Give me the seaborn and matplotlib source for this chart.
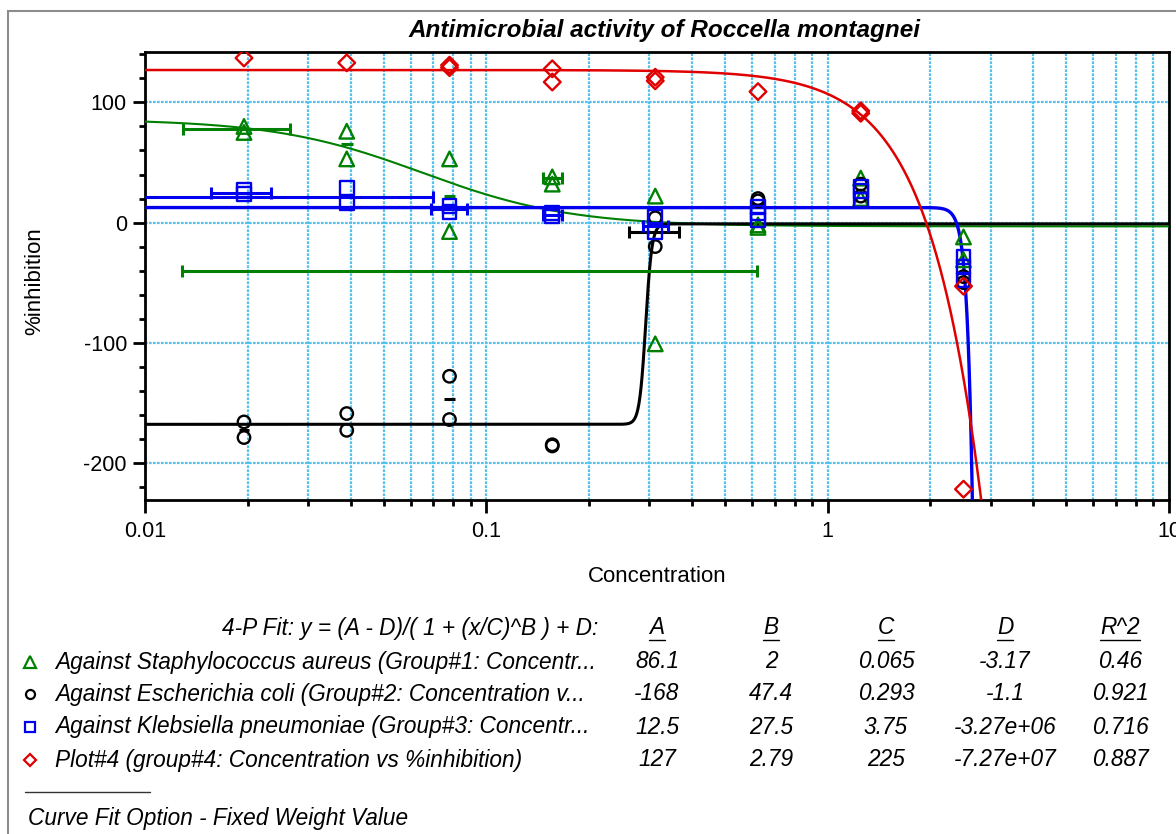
import numpy as np
import pandas as pd
import matplotlib
matplotlib.use("Agg")
import matplotlib.pyplot as plt
import seaborn as sns
from matplotlib.lines import Line2D
from matplotlib.patches import Rectangle
from matplotlib.ticker import LogLocator, MultipleLocator, NullFormatter

sns.set_theme(style="white")
plt.rcParams['font.family'] = ['Liberation Sans', 'DejaVu Sans']
plt.rcParams['axes.unicode_minus'] = False
plt.rcParams['text.color'] = 'black'
plt.rcParams['xtick.color'] = 'black'
plt.rcParams['ytick.color'] = 'black'

# ---------------- data ----------------
# Against Staphylococcus aureus
sa_x = [0.0195, 0.0195, 0.039, 0.039, 0.078, 0.078, 0.156, 0.156, 0.3125, 0.3125,
        0.625, 0.625, 1.25, 1.25, 2.5, 2.5]
sa_y = [80, 75, 76, 53, 53, -7.5, 38, 32, 22, -101, -2, -4, 37, 20, -12, -31]
# Against Escherichia coli
ec_x = [0.0195, 0.0195, 0.039, 0.039, 0.078, 0.078, 0.156, 0.156, 0.3125, 0.3125,
        0.625, 0.625, 1.25, 1.25, 2.5, 2.5]
ec_y = [-166, -179, -159, -173, -128, -164, -185, -186, 4, -20, 18, 20, 32, 22, -45, -50]
# Against Klebsiella pneumoniae
kp_x = [0.0195, 0.0195, 0.039, 0.039, 0.078, 0.078, 0.156, 0.156, 0.3125, 0.3125,
        0.625, 0.625, 0.625, 1.25, 1.25, 1.25, 2.5, 2.5, 2.5]
kp_y = [27, 24, 29, 16, 14, 9, 8, 5, 5, -8, 13, 8, 2, 30, 26, 19, -29, -37, -48]
# Plot#4
p4_x = [0.0195, 0.039, 0.078, 0.078, 0.156, 0.156, 0.3125, 0.3125, 0.625, 1.25, 1.25, 2.5, 2.5]
p4_y = [137, 133, 131, 129, 128, 117, 121, 118, 109, 93, 91, -53, -222]

# horizontal error bars (centre x, mean y, low x, high x)
sa_eb_x = [0.0195, 0.156, 0.3125]
sa_eb_y = [78, 37.5, -40]
sa_eb_lo = [0.0129, 0.1465, 0.0128]
sa_eb_hi = [0.0266, 0.1665, 0.620]
sa_dash_x = [0.039, 0.078]
sa_dash_y = [65, 22.5]

ec_eb_x = [0.3125]
ec_eb_y = [-8]
ec_eb_lo = [0.262]
ec_eb_hi = [0.367]
ec_dash_x = [0.0195, 0.078]
ec_dash_y = [-173, -147]

kp_eb_x = [0.0195, 0.039, 0.078, 0.156, 0.3125]
kp_eb_y = [25, 21, 11, 6.5, -2.5]
kp_eb_lo = [0.0156, 0.005, 0.0689, 0.1466, 0.288]
kp_eb_hi = [0.0234, 0.0700, 0.0878, 0.1667, 0.340]

# 4-P fit parameters  y = (A - D)/(1 + (x/C)^B) + D
series_names = ["Against Staphylococcus aureus (Group#1: Concentr...",
                "Against Escherichia coli (Group#2: Concentration v...",
                "Against Klebsiella pneumoniae (Group#3: Concentr...",
                "Plot#4 (group#4: Concentration vs %inhibition)"]
fit_A = [86.1, -168, 12.5, 127]
fit_B = [2, 47.4, 27.5, 2.79]
fit_C = [0.065, 0.293, 3.75, 225]
fit_D = [-3.17, -1.1, -3.27e+06, -7.27e+07]
fit_R2 = [0.46, 0.921, 0.716, 0.887]

x_ticks = [0.01, 0.1, 1, 10]
x_ticklabels = ["0.01", "0.1", "1", "10"]
y_ticks = [-200, -100, 0, 100]

colors = ["#008000", "#000000", "#0000EE", "#E00000"]
markers = ["^", "o", "s", "D"]
msizes = [110, 80, 100, 72]

# ---------------- figure ----------------
W, H = 1176, 834
fig = plt.figure(figsize=(W / 100, H / 100), dpi=100)
fig.patch.set_facecolor("white")

def fx(px):
    return px / W

def fy(py):
    return 1 - py / H

ax = fig.add_axes([fx(145), fy(500), fx(1169) - fx(145), fy(52) - fy(500)])
ax.set_xscale("log")
ax.set_xlim(0.01, 10)
ax.set_ylim(-231, 142)
ax.set_facecolor("white")

gridc = "#55C2EE"
ax.set_axisbelow(True)
ax.grid(which="both", axis="x", color=gridc, linestyle=(0, (1.2, 0.6)), linewidth=1.6)
ax.grid(which="major", axis="y", color=gridc, linestyle=(0, (1.2, 0.6)), linewidth=1.6)

# fitted curves
xs = np.logspace(-2, 1, 4000)
curve_lw = [1.5, 2.2, 2.4, 1.8]
for i in range(4):
    ys = (fit_A[i] - fit_D[i]) / (1 + (xs / fit_C[i]) ** fit_B[i]) + fit_D[i]
    sns.lineplot(x=xs, y=ys, color=colors[i], linewidth=curve_lw[i], ax=ax,
                 estimator=None, sort=False, zorder=3)

# error bars
def hbars(xc, yc, lo, hi, color, cap):
    xc = np.array(xc); lo = np.array(lo); hi = np.array(hi)
    ax.errorbar(xc, yc, xerr=[xc - lo, hi - xc], fmt="none", ecolor=color,
                elinewidth=2.2, capsize=cap, capthick=2.2, zorder=4)

hbars(sa_eb_x, sa_eb_y, sa_eb_lo, sa_eb_hi, colors[0], 4.5)
hbars(sa_dash_x, sa_dash_y, np.array(sa_dash_x) / 1.04, np.array(sa_dash_x) * 1.04, colors[0], 0)
hbars(ec_eb_x, ec_eb_y, ec_eb_lo, ec_eb_hi, colors[1], 4.5)
hbars(ec_dash_x, ec_dash_y, np.array(ec_dash_x) / 1.035, np.array(ec_dash_x) * 1.035, colors[1], 0)
hbars(kp_eb_x, kp_eb_y, kp_eb_lo, kp_eb_hi, colors[2], 4.5)

# data points
pts = [(sa_x, sa_y), (ec_x, ec_y), (kp_x, kp_y), (p4_x, p4_y)]
for i, (px_, py_) in enumerate(pts):
    sns.scatterplot(x=px_, y=py_, marker=markers[i], s=msizes[i], facecolors="none",
                    edgecolors=colors[i], linewidth=1.7, ax=ax, zorder=5, legend=False)

# axes styling
for sp in ax.spines.values():
    sp.set_color("black")
    sp.set_linewidth(2.0)
    sp.set_visible(True)
ax.set_xticks(x_ticks)
ax.set_xticklabels(x_ticklabels)
ax.xaxis.set_minor_locator(LogLocator(base=10, subs=np.arange(2, 10)))
ax.xaxis.set_minor_formatter(NullFormatter())
ax.set_yticks(y_ticks)
ax.yaxis.set_minor_locator(MultipleLocator(20))
ax.tick_params(which="major", direction="out", length=9, width=2.0, colors="black",
               labelsize=15.5, bottom=True, left=True, top=False, right=False)
ax.tick_params(axis="x", which="major", pad=6)
ax.tick_params(axis="y", which="major", pad=4)
ax.tick_params(which="minor", direction="out", length=4.5, width=2.0, colors="black",
               bottom=True, left=True, top=False, right=False)
ax.set_xlabel("")
ax.set_ylabel("")

# titles / labels
fig.text(fx(665), fy(30), "Antimicrobial activity of Roccella montagnei", ha="center",
         va="center", fontsize=17.5, fontweight="bold", fontstyle="italic")
fig.text(fx(657), fy(577), "Concentration", ha="center", va="center", fontsize=16)
fig.text(fx(35), fy(281), "%inhibition", ha="center", va="center", fontsize=16,
         rotation=90)

# fit table
tfs = 16.3
fig.text(fx(598), fy(628), "4-P Fit: y = (A - D)/( 1 + (x/C)^B ) + D:", ha="right",
         va="center", fontsize=tfs, fontstyle="italic")
col_x = [657, 771, 886, 1005, 1120]
headers = ["A", "B", "C", "D", "R^2"]
header_txts = []
for cx, h in zip(col_x, headers):
    header_txts.append(fig.text(fx(cx), fy(628), h, ha="center", va="center",
                                fontsize=tfs, fontstyle="italic"))
row_y = [662, 694, 727, 760]
for i in range(4):
    yy = fy(row_y[i])
    fig.add_artist(Line2D([fx(30)], [yy], marker=markers[i], markersize=[8, 6.5, 7, 6][i],
                          markerfacecolor="none", markeredgecolor=colors[i],
                          markeredgewidth=1.6, linestyle="none"))
    fig.text(fx(55), yy, series_names[i], ha="left", va="center", fontsize=tfs,
             fontstyle="italic")
    vals = [fit_A[i], fit_B[i], fit_C[i], fit_D[i], fit_R2[i]]
    for cx, v in zip(col_x, vals):
        fig.text(fx(cx), yy, "%g" % v, ha="center", va="center", fontsize=tfs,
                 fontstyle="italic")

fig.add_artist(Line2D([fx(25), fx(150)], [fy(792), fy(792)], color="#333333", linewidth=1.0))
fig.text(fx(28), fy(818), "Curve Fit Option - Fixed Weight Value", ha="left", va="center",
         fontsize=tfs, fontstyle="italic")

# underline headers
fig.canvas.draw()
rend = fig.canvas.get_renderer()
for t in header_txts:
    bb = t.get_window_extent(rend)
    fig.add_artist(Line2D([bb.x0 / W, bb.x1 / W], [fy(640), fy(640)], color="black",
                          linewidth=1.0))

# outer frame
fig.add_artist(Rectangle((fx(8), -0.1), 1.2, fy(11) + 0.1, transform=fig.transFigure,
                         fill=False, edgecolor="#8C8C8C", linewidth=1.5))

fig.savefig("out.png", dpi=100, facecolor="white")
